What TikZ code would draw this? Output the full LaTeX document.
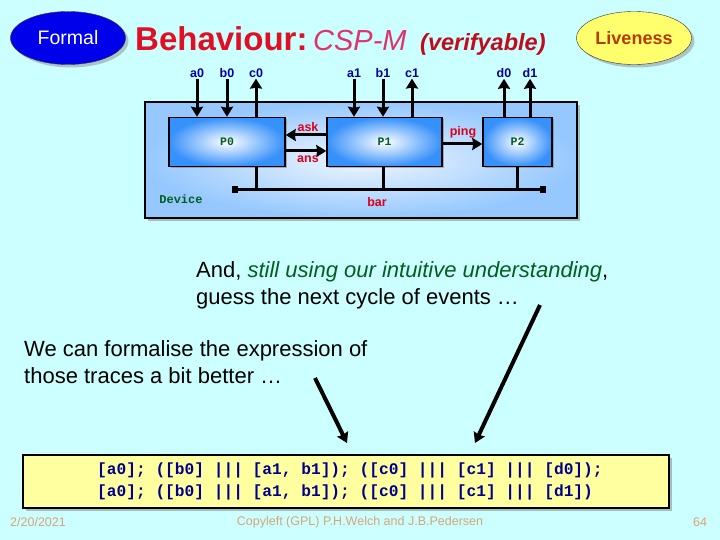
\documentclass[tikz,border=0pt]{standalone}
\usepackage{fontspec}
\setmainfont{Liberation Sans}
\setmonofont{Liberation Mono}
\usepackage{xcolor}
\usepackage{tikz}
\usetikzlibrary{shapes.geometric, arrows.meta, positioning, shadows}
\definecolor{slidebg}{RGB}{204,255,255}
\definecolor{formalblue}{RGB}{0,0,235}
\definecolor{liveyellow}{RGB}{255,255,110}
\definecolor{livebrown}{RGB}{180,60,0}
\definecolor{titlered}{RGB}{225,15,35}
\definecolor{csppink}{RGB}{225,50,105}
\definecolor{chanblue}{RGB}{0,0,150}
\definecolor{chanred}{RGB}{220,0,25}
\definecolor{procgreen}{RGB}{0,95,30}
\definecolor{procblue}{RGB}{55,145,250}
\definecolor{devblue}{RGB}{150,200,255}
\definecolor{codeyellow}{RGB}{255,255,160}
\definecolor{codeblue}{RGB}{0,0,140}
\definecolor{foottan}{RGB}{215,165,120}
\tikzstyle{arrow} = [
    line width=3pt,
    -{Stealth[length=10pt,width=12pt,inset=1pt]}
]
\tikzstyle{chan} = [
    inner sep=1pt,
    text=chanblue,
    font=\bfseries\fontsize{12.5}{14}\selectfont
]
\tikzstyle{msg} = [
    inner sep=1pt,
    text=chanred,
    font=\bfseries\fontsize{12.5}{14}\selectfont
]
\tikzstyle{proc} = [
    draw=black,
    line width=1.5pt,
    inner color=white,
    outer color=procblue,
    minimum height=49pt,
    text=procgreen,
    font=\ttfamily\bfseries\fontsize{11.5}{13}\selectfont,
    drop shadow={shadow xshift=2pt,shadow yshift=-2pt,fill=black!55}
]
\tikzstyle{blob} = [
    ellipse,
    draw=black!80,
    inner sep=0pt,
    minimum width=115pt,
    minimum height=53pt,
    drop shadow={shadow xshift=3pt,shadow yshift=-3pt,fill=black!45}
]

\begin{document}
\begin{tikzpicture}[x=1pt,y=-1pt]

\fill[slidebg] (0,0) rectangle (720,540);
\useasboundingbox (0,0) rectangle (720,540);

\node[blob, fill=formalblue, text=white,
font=\fontsize{19.5}{22}\selectfont] (formal) at (68,38) {Formal};

\node[blob, fill=liveyellow, text=livebrown,
font=\bfseries\fontsize{18}{22}\selectfont] (live) at (634,38) {Liveness};

\node[anchor=base west, inner sep=0pt, text=titlered,
font=\bfseries\fontsize{33}{38}\selectfont] (title) at (135,51) {Behaviour:};

\node[anchor=base west, inner sep=0pt, text=csppink,
font=\itshape\fontsize{29}{36}\selectfont] (csp) at (313,51) {CSP-M};

\node[anchor=base west, inner sep=0pt, text=titlered!85!black,
font=\bfseries\itshape\fontsize{23.5}{28}\selectfont] (verif) at (420,51) {(verifyable)};

\node[draw=black, line width=1.5pt, minimum width=432pt, minimum height=116pt,
inner color=white!85!devblue, outer color=devblue,
drop shadow={shadow xshift=3pt,shadow yshift=-3pt,fill=black!50}] (device) at (361,160) {};

\node[proc, minimum width=116pt] (P0) at (227,142) {P0};
\node[proc, minimum width=115pt] (P1) at (384.5,142) {P1};
\node[proc, minimum width=69pt] (P2) at (517.5,142) {P2};

\node[chan] (a0) at (197,73) {a0};
\node[chan] (b0) at (227,73) {b0};
\node[chan] (c0) at (256,73) {c0};
\node[chan] (a1) at (354,73) {a1};
\node[chan] (b1) at (383,73) {b1};
\node[chan] (c1) at (412,73) {c1};
\node[chan] (d0) at (504,73) {d0};
\node[chan] (d1) at (530,73) {d1};

\draw[arrow] (a0.south) -- (a0.south |- P0.north);
\draw[arrow] (b0.south) -- (b0.south |- P0.north);
\draw[arrow] (c0.south |- P0.north) -- (c0.south);
\draw[arrow] (a1.south) -- (a1.south |- P1.north);
\draw[arrow] (b1.south) -- (b1.south |- P1.north);
\draw[arrow] (c1.south |- P1.north) -- (c1.south);
\draw[arrow] (d0.south |- P2.north) -- (d0.south);
\draw[arrow] (d1.south |- P2.north) -- (d1.south);

\draw[arrow] ([yshift=7pt]P1.west) -- ([yshift=7pt]P0.east);
\draw[arrow] ([yshift=-9pt]P0.east) -- ([yshift=-9pt]P1.west);
\draw[arrow] ([yshift=-2pt]P1.east) -- ([yshift=-2pt]P2.west);

\node[msg] (ask) at (308,127) {ask};
\node[msg] (ans) at (308,159) {ans};
\node[msg] (ping) at (463,132) {ping};

\coordinate (barL) at (235,190);
\coordinate (barR) at (543,190);
\draw[line width=3pt] (barL) -- (barR);
\fill (barL) +(-3,-3.5) rectangle +(3,3.5);
\fill (barR) +(-3,-3.5) rectangle +(3,3.5);
\draw[line width=3pt] (c0.south |- P0.south) -- (c0.south |- barL);
\draw[line width=3pt] (b1.south |- P1.south) -- (b1.south |- barL);
\draw[line width=3pt] (P2.south) -- (P2.south |- barL);

\node[msg] (bar) at (377,202) {bar};

\node[inner sep=1pt, text=procgreen,
font=\ttfamily\bfseries\fontsize{12}{14}\selectfont] (devname) at (181,199) {Device};

\node[anchor=west, align=left, inner sep=0pt,
font=\fontsize{22}{27}\selectfont] (guess) at (196,285)
{And, \textcolor{procgreen}{\itshape still using our intuitive understanding},\\
guess the next cycle of events \dots};

\node[anchor=west, align=left, inner sep=0pt,
font=\fontsize{22}{27}\selectfont] (formalise) at (24,362.5)
{We can formalise the expression of\\
those traces a bit better \dots};

\coordinate (p1s) at (315,378);
\coordinate (p1e) at (347,443);
\coordinate (p2s) at (540,305);
\coordinate (p2e) at (475,443);
\draw[arrow, line width=4pt] (p1s) -- (p1e);
\draw[arrow, line width=4pt] (p2s) -- (p2e);

\node[draw=black, line width=1.5pt, fill=codeyellow, minimum width=646pt, minimum height=53pt,
drop shadow={shadow xshift=3pt,shadow yshift=-3pt,fill=black!50}] (codebox) at (346,481.5) {};

\node[anchor=west, align=left, inner sep=0pt, text=codeblue,
font=\ttfamily\bfseries\fontsize{16.2}{22}\selectfont] (code) at (97,481.5)
{{}[a0]; ([b0] |{}|{}| [a1, b1]); ([c0] |{}|{}| [c1] |{}|{}| [d0]);\\{}%
[a0]; ([b0] |{}|{}| [a1, b1]); ([c0] |{}|{}| [c1] |{}|{}| [d1])};

\node[anchor=west, inner sep=0pt, text=foottan,
font=\fontsize{12.5}{14}\selectfont] (date) at (10,522) {2/20/2021};

\node[inner sep=0pt, text=foottan,
font=\fontsize{12.5}{14}\selectfont] (copy) at (360,522) {Copyleft (GPL) P.H.Welch and J.B.Pedersen};

\node[inner sep=0pt, text=foottan,
font=\fontsize{12.5}{14}\selectfont] (page) at (700,522) {64};

\end{tikzpicture}
\end{document}
